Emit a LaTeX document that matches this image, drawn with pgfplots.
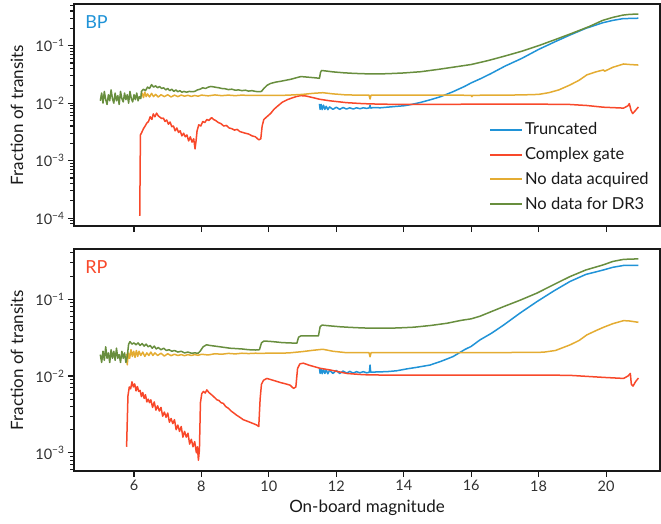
\documentclass[border=0pt]{standalone}
\usepackage{fontspec}
\setmainfont{Lato}
\usepackage{pgfplots}
\pgfplotsset{compat=1.18}
\definecolor{trblue}{RGB}{32,147,215}
\definecolor{cgred}{RGB}{248,72,42}
\definecolor{ndyellow}{RGB}{228,172,50}
\definecolor{drgreen}{RGB}{104,142,62}
\definecolor{spine}{RGB}{25,25,25}

\begin{document}
\begin{tikzpicture}
\pgfplotsset{
  every axis/.append style={
    scale only axis, width=586pt, height=222pt,
    xmin=4.22, xmax=21.6,
    xtick={6,8,...,20},
    axis line style={spine, line width=1.4pt},
    tick style={spine, line width=1.1pt},
    major tick length=6pt, minor tick length=3.5pt,
    tick align=outside, tick pos=left,
    ticklabel style={font=\fontsize{14.5}{17}\selectfont, text=spine!90},
    ylabel={Fraction of transits},
  },
  every axis y label/.style={at={(axis description cs:0,0.5)}, rotate=90,
    anchor=center, yshift=57pt, font=\fontsize{17}{20}\selectfont, text=spine},
  every axis x label/.style={at={(axis description cs:0.5,0)},
    anchor=center, yshift=-37pt, font=\fontsize{17}{20}\selectfont, text=spine},
  every axis plot/.append style={line width=1.5pt, line join=round},
}
% ---------------- BP ----------------
\begin{axis}[name=top, at={(0pt,0pt)}, anchor=north west, ymode=log,
  ymin=7.3e-5, ymax=0.53, xticklabels={},
  ytick={1e-4,1e-3,1e-2,1e-1},
  yticklabels={10\textsuperscript{−4},10\textsuperscript{−3},10\textsuperscript{−2},10\textsuperscript{−1}},
  minor ytick={8e-5,9e-5,2e-4,3e-4,4e-4,5e-4,6e-4,7e-4,8e-4,9e-4,2e-3,3e-3,4e-3,5e-3,6e-3,7e-3,8e-3,9e-3,
    2e-2,3e-2,4e-2,5e-2,6e-2,7e-2,8e-2,9e-2,2e-1,3e-1,4e-1,5e-1},
  legend style={at={(rel axis cs:0.708,0.475)}, anchor=north west, draw=none, fill=none,
    font=\fontsize{16.5}{19}\selectfont, text=spine, row sep=7.3pt, inner sep=0pt,
    nodes={inner sep=2pt}},
  legend cell align=left,
  legend image code/.code={\draw[#1, line width=2pt] (0pt,0pt) -- (32pt,0pt);},
]
\addplot[trblue] coordinates {
(11.50,0.0097)(11.52,0.0078)(11.55,0.0095)(11.58,0.0077)(11.62,0.0092)(11.66,0.0078)(11.70,0.0088)
(11.75,0.0077)(11.8,0.0086)(11.9,0.0078)(12.0,0.0085)(12.1,0.0078)(12.2,0.0084)(12.3,0.0079)
(12.4,0.0083)(12.5,0.0079)(12.6,0.0083)(12.7,0.0080)(12.8,0.0083)(12.9,0.0081)(12.98,0.0083)
(13.0,0.0092)(13.02,0.0082)(13.1,0.0084)(13.3,0.0083)(13.5,0.0085)(13.8,0.0088)(14.0,0.009)
(14.2,0.0094)(14.5,0.0103)(14.8,0.0115)(15.1,0.013)(15.46,0.0158)(15.8,0.0195)(16.0,0.0225)
(16.3,0.027)(16.6,0.033)(17.0,0.044)(17.5,0.060)(18.0,0.086)(18.5,0.118)(18.93,0.153)
(19.4,0.20)(19.9,0.25)(20.2,0.275)(20.5,0.295)(20.96,0.30)};
\addlegendentry{Truncated}
\addplot[cgred] coordinates {
(6.17,0.00011)(6.19,0.0028)(6.23,0.0031)(6.28,0.0036)(6.33,0.004)(6.38,0.0045)(6.43,0.0048)
(6.48,0.0058)(6.53,0.0052)(6.57,0.0065)(6.62,0.0058)(6.67,0.0067)(6.72,0.0060)(6.77,0.0057)
(6.82,0.0054)(6.87,0.0055)(6.92,0.0048)(6.97,0.0051)(7.02,0.0043)(7.07,0.0047)(7.12,0.0039)
(7.17,0.0040)(7.22,0.0033)(7.27,0.0037)(7.32,0.0031)(7.37,0.0033)(7.42,0.0027)(7.47,0.0030)
(7.52,0.0026)(7.57,0.0028)(7.62,0.0022)(7.67,0.0026)(7.72,0.0021)(7.77,0.0024)(7.81,0.0016)
(7.84,0.0022)(7.87,0.0033)(7.92,0.0042)(7.98,0.0040)(8.04,0.0048)(8.10,0.0046)(8.16,0.0052)
(8.22,0.0050)(8.30,0.0056)(8.36,0.0052)(8.42,0.0050)(8.50,0.0046)(8.58,0.0044)(8.66,0.0040)
(8.74,0.0041)(8.82,0.0037)(8.90,0.0036)(8.98,0.0034)(9.06,0.0035)(9.14,0.0032)(9.22,0.0031)
(9.30,0.0030)(9.40,0.0029)(9.50,0.0027)(9.60,0.0026)(9.70,0.0023)(9.76,0.0024)(9.80,0.0040)
(9.85,0.0052)(9.94,0.0058)(10.05,0.0066)(10.15,0.0078)(10.25,0.0088)(10.4,0.0104)(10.55,0.0115)
(10.7,0.0124)(10.85,0.0132)(10.95,0.0135)(11.1,0.0133)(11.3,0.0125)(11.5,0.0117)(11.8,0.011)
(12.3,0.0102)(12.8,0.0098)(13.3,0.0096)(14,0.0095)(15,0.0095)(16,0.0096)(17,0.0096)(18,0.0096)
(18.9,0.0095)(19.43,0.0091)(19.92,0.0085)(20.52,0.0082)(20.65,0.0090)(20.69,0.0098)(20.74,0.0075)
(20.79,0.0066)(20.85,0.0072)(20.96,0.0086)};
\addlegendentry{Complex gate}
\addplot[ndyellow] coordinates {
(6.20,0.0125)(6.24,0.0150)(6.28,0.0125)(6.32,0.0155)(6.36,0.013)(6.40,0.0145)(6.46,0.0128)
(6.52,0.0148)(6.58,0.013)(6.64,0.0142)(6.72,0.0128)(6.80,0.0140)(6.90,0.0130)(7.00,0.0140)
(7.10,0.0128)(7.20,0.0138)(7.30,0.013)(7.40,0.0138)(7.50,0.0132)(7.60,0.0137)(7.70,0.0131)
(7.80,0.0136)(7.90,0.0132)(8.0,0.0138)(8.2,0.0134)(8.4,0.0139)(8.6,0.0135)(8.8,0.0138)
(9.0,0.0135)(9.2,0.0138)(9.4,0.0136)(9.6,0.0137)(9.8,0.0136)(10.0,0.0137)(10.3,0.0136)
(10.6,0.0138)(11.0,0.0142)(11.3,0.0148)(11.6,0.0152)(11.9,0.0145)(12.3,0.0139)(12.7,0.0138)
(12.97,0.0138)(13.0,0.0118)(13.03,0.0138)(13.5,0.0138)(14.0,0.0138)(15.0,0.0138)(16.0,0.0137)
(16.02,0.0130)(16.05,0.0137)(17.0,0.0138)(17.5,0.0139)(18.0,0.0142)(18.3,0.0152)(18.6,0.017)
(18.93,0.0207)(19.2,0.025)(19.43,0.031)(19.7,0.035)(19.92,0.0378)(19.96,0.036)(20.2,0.042)
(20.52,0.048)(20.7,0.047)(20.96,0.046)};
\addlegendentry{No data acquired}
\addplot[drgreen] coordinates {
(5.00,0.011)(5.04,0.015)(5.08,0.010)(5.12,0.016)(5.16,0.0115)(5.20,0.0095)(5.24,0.014)(5.28,0.011)
(5.32,0.017)(5.36,0.012)(5.40,0.0100)(5.44,0.015)(5.48,0.011)(5.52,0.0135)(5.56,0.0095)(5.60,0.016)
(5.64,0.012)(5.68,0.0105)(5.72,0.015)(5.76,0.0115)(5.80,0.0140)(5.84,0.010)(5.88,0.016)(5.92,0.012)
(5.96,0.0105)(6.00,0.014)(6.04,0.0115)(6.08,0.015)(6.12,0.011)(6.16,0.013)(6.20,0.0120)
(6.22,0.016)(6.28,0.0175)(6.34,0.0165)(6.40,0.019)(6.46,0.018)(6.52,0.021)(6.58,0.019)(6.64,0.020)
(6.70,0.0185)(6.76,0.0195)(6.82,0.018)(6.88,0.0185)(6.94,0.017)(7.00,0.018)(7.06,0.0165)
(7.12,0.0175)(7.18,0.016)(7.24,0.017)(7.30,0.0158)(7.36,0.0165)(7.42,0.0155)(7.48,0.016)
(7.56,0.0155)(7.64,0.016)(7.72,0.0158)(7.80,0.016)(7.88,0.017)(7.96,0.0175)(8.04,0.0185)
(8.12,0.018)(8.20,0.019)(8.28,0.0195)(8.36,0.0192)(8.44,0.0188)(8.52,0.0185)(8.60,0.018)
(8.70,0.0178)(8.80,0.0172)(8.90,0.0175)(9.00,0.0168)(9.10,0.017)(9.20,0.0165)(9.30,0.0168)
(9.40,0.0162)(9.50,0.0165)(9.60,0.016)(9.70,0.0158)(9.78,0.016)(9.85,0.018)(9.95,0.0205)
(10.05,0.022)(10.2,0.0232)(10.35,0.024)(10.5,0.025)(10.65,0.026)(10.8,0.0275)(10.95,0.029)
(11.1,0.0285)(11.25,0.028)(11.4,0.0275)(11.5,0.027)(11.53,0.034)(11.56,0.037)(11.7,0.0362)
(11.9,0.035)(12.2,0.0338)(12.5,0.033)(12.8,0.0325)(13.1,0.0322)(13.5,0.0325)(14.0,0.0335)
(14.5,0.0352)(15.0,0.0385)(15.5,0.0425)(16.0,0.047)(16.5,0.055)(17.0,0.066)(17.5,0.080)
(18.0,0.100)(18.5,0.128)(19.0,0.165)(19.5,0.215)(19.9,0.275)(20.2,0.31)(20.5,0.34)(20.7,0.35)
(20.96,0.355)};
\addlegendentry{No data for DR3}
\node[anchor=north west, inner sep=0pt, text=trblue, font=\fontsize{18}{20}\selectfont]
  at (rel axis cs:0.019,0.95) {BP};
\end{axis}
% ---------------- RP ----------------
\begin{axis}[name=bot, at={(0pt,-245pt)}, anchor=north west, ymode=log,
  ymin=5.8e-4, ymax=0.45, xlabel={On-board magnitude},
  xticklabels={6,8,10,12,14,16,18,20},
  ytick={1e-3,1e-2,1e-1},
  yticklabels={10\textsuperscript{−3},10\textsuperscript{−2},10\textsuperscript{−1}},
  minor ytick={6e-4,7e-4,8e-4,9e-4,2e-3,3e-3,4e-3,5e-3,6e-3,7e-3,8e-3,9e-3,
    2e-2,3e-2,4e-2,5e-2,6e-2,7e-2,8e-2,9e-2,2e-1,3e-1,4e-1},
]
\addplot[trblue] coordinates {
(11.50,0.0125)(11.52,0.0108)(11.55,0.0124)(11.58,0.0107)(11.62,0.0122)(11.66,0.0108)(11.7,0.012)
(11.75,0.0107)(11.8,0.0119)(11.9,0.0108)(12.0,0.0118)(12.1,0.0108)(12.2,0.0116)(12.31,0.0109)
(12.4,0.0115)(12.5,0.0109)(12.6,0.0114)(12.7,0.011)(12.8,0.0114)(12.9,0.011)(12.98,0.0112)
(13.0,0.0139)(13.02,0.0112)(13.2,0.0113)(13.5,0.0114)(13.79,0.0117)(14.1,0.0124)(14.4,0.013)
(14.78,0.0139)(15.1,0.0155)(15.46,0.0179)(15.8,0.022)(16.0,0.0243)(16.26,0.0295)(16.6,0.036)
(16.96,0.046)(17.45,0.066)(17.95,0.093)(18.45,0.128)(18.93,0.17)(19.4,0.21)(19.92,0.24)
(20.2,0.26)(20.52,0.275)(20.96,0.275)};
\addplot[cgred] coordinates {
(5.78,0.0012)(5.82,0.0055)(5.86,0.0072)(5.90,0.0068)(5.94,0.0084)(5.98,0.0072)(6.02,0.0079)
(6.06,0.0064)(6.10,0.0073)(6.14,0.0063)(6.18,0.0065)(6.22,0.0054)(6.26,0.0061)(6.30,0.0051)
(6.34,0.0057)(6.38,0.0046)(6.42,0.0050)(6.46,0.0045)(6.50,0.0049)(6.55,0.0039)(6.60,0.0046)
(6.65,0.0036)(6.70,0.0041)(6.75,0.0035)(6.80,0.0039)(6.85,0.0030)(6.90,0.0034)(6.95,0.0029)
(7.00,0.0033)(7.05,0.0025)(7.10,0.0028)(7.15,0.0024)(7.20,0.0027)(7.25,0.0020)(7.30,0.0023)
(7.35,0.0019)(7.40,0.0022)(7.45,0.0016)(7.50,0.0019)(7.55,0.0016)(7.60,0.0018)(7.65,0.0013)
(7.70,0.0015)(7.75,0.0012)(7.80,0.0014)(7.85,0.0010)(7.88,0.0012)(7.91,0.0008)(7.94,0.0011)
(7.97,0.0045)(8.01,0.0059)(8.06,0.0063)(8.11,0.0060)(8.16,0.0066)(8.22,0.0061)(8.28,0.0058)
(8.34,0.0055)(8.40,0.0052)(8.46,0.0049)(8.52,0.0048)(8.58,0.0045)(8.65,0.0044)(8.72,0.0040)
(8.80,0.0038)(8.88,0.0035)(8.96,0.0033)(9.04,0.0031)(9.14,0.0029)(9.24,0.0027)(9.34,0.0026)
(9.44,0.0025)(9.54,0.0024)(9.64,0.0023)(9.70,0.0022)(9.74,0.0050)(9.78,0.0078)(9.84,0.0088)
(9.94,0.0093)(10.05,0.0090)(10.2,0.0086)(10.35,0.0082)(10.5,0.0079)(10.63,0.0076)(10.73,0.0069)
(10.80,0.0072)(10.85,0.0125)(10.92,0.0144)(11.02,0.0147)(11.2,0.0138)(11.52,0.0126)(11.81,0.012)
(12.31,0.0108)(12.8,0.0104)(13.3,0.0103)(14,0.0103)(15,0.0103)(16,0.0103)(17,0.0103)(18,0.0103)
(18.93,0.0102)(19.92,0.0096)(20.52,0.0093)(20.65,0.0100)(20.72,0.0108)(20.75,0.0078)(20.8,0.0074)
(20.88,0.0085)(20.96,0.0094)};
\addplot[ndyellow] coordinates {
(5.78,0.0195)(5.80,0.014)(5.83,0.020)(5.87,0.017)(5.91,0.022)(5.95,0.018)(5.99,0.021)(6.03,0.0175)
(6.07,0.0215)(6.11,0.018)(6.15,0.021)(6.20,0.0185)(6.26,0.0205)(6.32,0.018)(6.38,0.020)
(6.44,0.0185)(6.50,0.0205)(6.56,0.0185)(6.62,0.020)(6.70,0.0185)(6.80,0.0198)(6.90,0.0182)
(7.00,0.0195)(7.10,0.0184)(7.20,0.0192)(7.30,0.0185)(7.40,0.019)(7.50,0.0184)(7.60,0.019)
(7.70,0.0185)(7.80,0.019)(7.90,0.0186)(8.0,0.0192)(8.2,0.0188)(8.4,0.0195)(8.6,0.0192)
(8.8,0.0197)(9.0,0.0194)(9.2,0.0198)(9.4,0.0196)(9.6,0.0198)(9.8,0.0197)(10.0,0.0199)
(10.3,0.0198)(10.6,0.020)(11.0,0.0208)(11.3,0.0216)(11.6,0.0223)(11.9,0.021)(12.31,0.0201)
(12.97,0.0201)(13.0,0.0178)(13.03,0.0201)(14,0.0201)(15,0.0201)(16,0.0202)(17,0.0202)
(18.14,0.0204)(18.5,0.0215)(18.93,0.0254)(19.2,0.029)(19.43,0.0343)(19.7,0.039)(19.92,0.043)
(20.2,0.048)(20.52,0.0526)(20.7,0.052)(20.96,0.050)};
\addplot[drgreen] coordinates {
(5.00,0.019)(5.04,0.015)(5.08,0.021)(5.12,0.016)(5.16,0.024)(5.20,0.017)(5.24,0.020)(5.28,0.015)
(5.32,0.022)(5.36,0.017)(5.40,0.021)(5.44,0.016)(5.48,0.023)(5.52,0.017)(5.56,0.019)(5.60,0.015)
(5.64,0.021)(5.68,0.017)(5.72,0.020)(5.76,0.015)(5.80,0.018)(5.84,0.026)(5.88,0.028)(5.94,0.026)
(6.00,0.027)(6.06,0.0255)(6.12,0.027)(6.18,0.025)(6.24,0.0265)(6.30,0.0245)(6.36,0.026)
(6.42,0.024)(6.48,0.025)(6.54,0.023)(6.60,0.0245)(6.66,0.0225)(6.72,0.0235)(6.80,0.022)
(6.88,0.023)(6.96,0.0215)(7.04,0.022)(7.12,0.021)(7.20,0.0215)(7.30,0.0205)(7.40,0.021)
(7.50,0.020)(7.60,0.0205)(7.70,0.0198)(7.80,0.020)(7.90,0.0198)(7.96,0.021)(8.05,0.024)
(8.15,0.0255)(8.25,0.025)(8.4,0.0245)(8.55,0.024)(8.7,0.0235)(8.85,0.023)(9.0,0.0228)
(9.2,0.0225)(9.4,0.022)(9.6,0.0218)(9.72,0.022)(9.78,0.027)(9.85,0.0285)(10.0,0.0283)
(10.2,0.0278)(10.4,0.0272)(10.6,0.027)(10.83,0.0267)(10.88,0.032)(10.95,0.0333)(11.2,0.0333)
(11.47,0.0333)(11.52,0.044)(11.58,0.046)(11.8,0.045)(12.1,0.0438)(12.4,0.043)(12.8,0.0422)
(13.3,0.0419)(13.8,0.0422)(14.3,0.0432)(14.8,0.0455)(15.28,0.0486)(15.7,0.053)(16.0,0.0555)
(16.26,0.060)(16.6,0.069)(16.96,0.080)(17.45,0.097)(17.95,0.12)(18.45,0.155)(18.93,0.197)
(19.4,0.24)(19.92,0.28)(20.2,0.31)(20.52,0.33)(20.96,0.335)};
\node[anchor=north west, inner sep=0pt, text=cgred, font=\fontsize{18}{20}\selectfont]
  at (rel axis cs:0.019,0.95) {RP};
\end{axis}
\path (-74pt,4pt) rectangle (587pt,-519pt);
\end{tikzpicture}
\end{document}
